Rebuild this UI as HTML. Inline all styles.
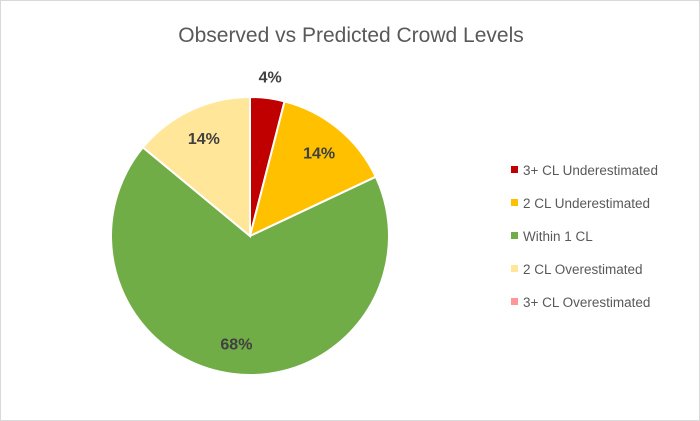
<!DOCTYPE html>
<html><head><meta charset="utf-8">
<style>
html,body{margin:0;padding:0;background:#fff;}
#wrap{position:relative;width:700px;height:421px;box-sizing:border-box;border:1px solid #d9d9d9;background:#fff;overflow:hidden;}
svg text{font-family:"Liberation Sans",sans-serif;}
</style></head>
<body>
<div id="wrap">
<svg id="chart" width="700" height="421">
<text x="350" y="41" text-anchor="middle" font-size="21" fill="#595959">Observed vs Predicted Crowd Levels</text>
</svg>
</div>
<script>
const categories = ["3+ CL Underestimated","2 CL Underestimated","Within 1 CL","2 CL Overestimated","3+ CL Overestimated"];
const values = [4, 14, 68, 14, 0];
const labels = ["4%","14%","68%","14%",""];
const colors = ["#C00000","#FFC000","#70AD47","#FFE699","#FF9999"];

const svg = document.getElementById('chart');
const NS = "http://www.w3.org/2000/svg";
const cx = 249, cy = 235, r = 139;
const total = values.reduce((a,b)=>a+b,0);
function pt(angleFrac, rad){ const a = angleFrac*2*Math.PI; return [cx + rad*Math.sin(a), cy - rad*Math.cos(a)]; }

let acc = 0;
values.forEach((v,i)=>{
  const f0 = acc/total, f1 = (acc+v)/total; acc += v;
  if (v > 0) {
    const [x0,y0] = pt(f0,r), [x1,y1] = pt(f1,r);
    const large = (f1-f0) > 0.5 ? 1 : 0;
    const p = document.createElementNS(NS,'path');
    p.setAttribute('d', `M${cx},${cy} L${x0},${y0} A${r},${r} 0 ${large} 1 ${x1},${y1} Z`);
    p.setAttribute('fill', colors[i]);
    p.setAttribute('stroke', '#fff');
    p.setAttribute('stroke-width', '2');
    
    
    svg.appendChild(p);
  }
});
acc = 0;
values.forEach((v,i)=>{
  const fm = (acc + v/2)/total; acc += v;
  if (v <= 0) return;
  const frac = v/total;
  const rad = frac < 0.06 ? r + 22 : r*0.78;
  const [lx,ly] = pt(fm, rad);
  const t = document.createElementNS(NS,'text');
  t.setAttribute('x', lx); t.setAttribute('y', ly + 6);
  t.setAttribute('text-anchor','middle');
  t.setAttribute('font-size','16'); t.setAttribute('font-weight','bold');
  t.setAttribute('fill','#404040');
  t.textContent = labels[i];
  
  
  svg.appendChild(t);
});
categories.forEach((c,i)=>{
  const y = 169 + i*33;
  const g = document.createElementNS(NS,'g');
  
  
  const m = document.createElementNS(NS,'rect');
  m.setAttribute('x', 510); m.setAttribute('y', y-4); m.setAttribute('width', 7); m.setAttribute('height', 7);
  m.setAttribute('fill', colors[i]);
  
  
  const t = document.createElementNS(NS,'text');
  t.setAttribute('x', 522); t.setAttribute('y', y+5);
  t.setAttribute('font-size','13.5'); t.setAttribute('fill','#595959');
  t.textContent = c;
  
  
  g.appendChild(m); g.appendChild(t); svg.appendChild(g);
});
</script>
</body></html>
